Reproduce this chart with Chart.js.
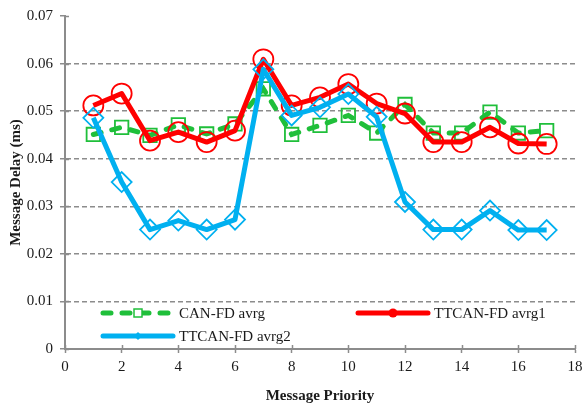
<!DOCTYPE html>
<html>
<head>
<meta charset="utf-8">
<script src="https://cdn.jsdelivr.net/npm/chart.js@4"></script>
<style>
  html, body { margin: 0; padding: 0; background: #fff; }
  #wrap { width: 588px; height: 405px; }
</style>
</head>
<body>
<div id="wrap"><canvas id="delayChart"></canvas></div>
<script>
// message priorities on the x axis
const priorities = [1, 2, 3, 4, 5, 6, 7, 8, 9, 10, 11, 12, 13, 14, 15, 16, 17];

// average delay in ms per priority
const canFdAvrg = [0.0451, 0.0466, 0.0449, 0.0471, 0.0452, 0.0473, 0.0547, 0.0451, 0.0470,
  0.0491, 0.0454, 0.0514, 0.0454, 0.0454, 0.0498, 0.0454, 0.0459];
const ttcanFdAvrg1 = [0.0512, 0.0537, 0.0438, 0.0456, 0.0435, 0.0459, 0.0609, 0.0512, 0.0529,
  0.0557, 0.0516, 0.0495, 0.0435, 0.0435, 0.0466, 0.0432, 0.0431];
const ttcanFdAvrg2 = [0.0486, 0.0351, 0.0251, 0.0270, 0.0251, 0.0272, 0.0588, 0.0491, 0.0508,
  0.0536, 0.0488, 0.0309, 0.0251, 0.0251, 0.0291, 0.0250, 0.0250];

const seriesNames = ["CAN-FD avrg", "TTCAN-FD avrg1", "TTCAN-FD avrg2"];

const GREEN = "#1fbf3a";
const RED = "#ff0000";
const BLUE = "#00b0f0";
const GRID = "#8c8c8c";
const SERIF = "'Liberation Serif', 'Times New Roman', serif";

const toPoints = (vals) => vals.map((v, i) => ({ x: priorities[i], y: v }));

// short tick stubs on the inner side of both axes (cross-style ticks)
const innerTicks = {
  id: "innerTicks",
  afterDatasetsDraw(chart) {
    const { ctx, chartArea, scales } = chart;
    ctx.save();
    ctx.strokeStyle = GRID;
    ctx.lineWidth = 1.5;
    ctx.beginPath();
    scales.y.ticks.forEach((t) => {
      const py = Math.round(scales.y.getPixelForValue(t.value)) + 0.5;
      ctx.moveTo(chartArea.left, py);
      ctx.lineTo(chartArea.left + 4, py);
    });
    scales.x.ticks.forEach((t) => {
      const px = Math.round(scales.x.getPixelForValue(t.value)) + 0.5;
      ctx.moveTo(px, chartArea.bottom);
      ctx.lineTo(px, chartArea.bottom - 4);
    });
    ctx.stroke();
    ctx.restore();
  }
};

// legend drawn inside the plot area, below the curves
const innerLegend = {
  id: "innerLegend",
  afterDraw(chart) {
    const { ctx, chartArea } = chart;
    const left = chartArea.left;
    const rows = [
      { ds: 0, x: left + 38, y: chartArea.bottom - 36 },
      { ds: 1, x: left + 293, y: chartArea.bottom - 36 },
      { ds: 2, x: left + 38, y: chartArea.bottom - 13 }
    ];
    const lineLen = 70;
    ctx.save();
    rows.forEach((r) => {
      const ds = chart.data.datasets[r.ds];
      ctx.lineWidth = ds.borderWidth;
      ctx.strokeStyle = ds.borderColor;
      ctx.lineCap = "round";
      ctx.setLineDash(ds.borderDash || []);
      ctx.beginPath();
      ctx.moveTo(r.x, r.y);
      ctx.lineTo(r.x + lineLen, r.y);
      ctx.stroke();
      ctx.setLineDash([]);
      const cx = r.x + lineLen / 2;
      if (r.ds === 0) {
        ctx.fillStyle = "#fff";
        ctx.fillRect(cx - 4, r.y - 4, 8, 8);
        ctx.lineWidth = 1.5;
        ctx.strokeRect(cx - 4, r.y - 4, 8, 8);
      } else if (r.ds === 1) {
        ctx.fillStyle = ds.borderColor;
        ctx.beginPath();
        ctx.arc(cx, r.y, 4.5, 0, Math.PI * 2);
        ctx.fill();
      } else {
        ctx.fillStyle = ds.borderColor;
        ctx.beginPath();
        ctx.moveTo(cx, r.y - 4);
        ctx.lineTo(cx + 4, r.y);
        ctx.lineTo(cx, r.y + 4);
        ctx.lineTo(cx - 4, r.y);
        ctx.closePath();
        ctx.fill();
      }
      ctx.fillStyle = "#1a1a1a";
      ctx.font = "15px " + SERIF;
      ctx.textBaseline = "middle";
      ctx.fillText(ds.label, r.x + lineLen + 6, r.y + 1);
    });
    ctx.restore();
  }
};

new Chart(document.getElementById("delayChart"), {
  type: "line",
  data: {
    datasets: [
      {
        label: seriesNames[0],
        data: toPoints(canFdAvrg),
        borderColor: GREEN,
        borderWidth: 5,
        borderDash: [8, 11],
        borderCapStyle: "round",
        pointStyle: "rect",
        pointRadius: 9.5,
        pointBorderWidth: 1.8,
        pointBorderColor: GREEN,
        pointBackgroundColor: "transparent",
        tension: 0,
        order: 3
      },
      {
        label: seriesNames[1],
        data: toPoints(ttcanFdAvrg1),
        borderColor: RED,
        borderWidth: 5,
        borderJoinStyle: "round",
        pointStyle: "circle",
        pointRadius: 10,
        pointBorderWidth: 1.8,
        pointBorderColor: RED,
        pointBackgroundColor: "transparent",
        tension: 0,
        order: 2
      },
      {
        label: seriesNames[2],
        data: toPoints(ttcanFdAvrg2),
        borderColor: BLUE,
        borderWidth: 5,
        borderJoinStyle: "round",
        pointStyle: "rectRot",
        pointRadius: 10,
        pointBorderWidth: 1.8,
        pointBorderColor: BLUE,
        pointBackgroundColor: "transparent",
        tension: 0,
        order: 1
      }
    ]
  },
  options: {
    responsive: true,
    maintainAspectRatio: false,
    animation: false,
    layout: { padding: { top: 15, right: 13, bottom: 0, left: 0 } },
    plugins: {
      legend: { display: false },
      tooltip: { enabled: false }
    },
    scales: {
      x: {
        type: "linear",
        min: 0,
        max: 18,
        ticks: { stepSize: 2, color: "#1a1a1a", font: { family: SERIF, size: 15 }, padding: 5 },
        grid: { drawOnChartArea: false, drawTicks: true, tickLength: 4, tickColor: GRID, tickWidth: 1.5 },
        border: { color: GRID, width: 2 },
        title: {
          display: true,
          text: "Message Priority",
          color: "#1a1a1a",
          font: { family: SERIF, size: 15, weight: "bold" },
          padding: { top: 8, bottom: 0 }
        },
        afterFit(scale) { scale.height = 56; }
      },
      y: {
        min: 0,
        max: 0.07,
        ticks: {
          stepSize: 0.01,
          color: "#1a1a1a",
          font: { family: SERIF, size: 15 },
          padding: 7,
          callback: (v) => (v === 0 ? "0" : v.toFixed(2))
        },
        grid: {
          color: (c) => (c.tick && (c.tick.value === 0 || Math.abs(c.tick.value - 0.07) < 1e-9) ? "transparent" : GRID),
          lineWidth: 1.5,
          tickLength: 5,
          tickColor: GRID,
          tickWidth: 1.5
        },
        border: { color: GRID, width: 2, dash: [5, 3] },
        title: {
          display: true,
          text: "Message Delay (ms)",
          color: "#1a1a1a",
          font: { family: SERIF, size: 15, weight: "bold" },
          padding: { top: 7, bottom: 0 }
        },
        afterFit(scale) { scale.width = 65; }
      }
    }
  },
  plugins: [innerTicks, innerLegend]
});
</script>
</body>
</html>
